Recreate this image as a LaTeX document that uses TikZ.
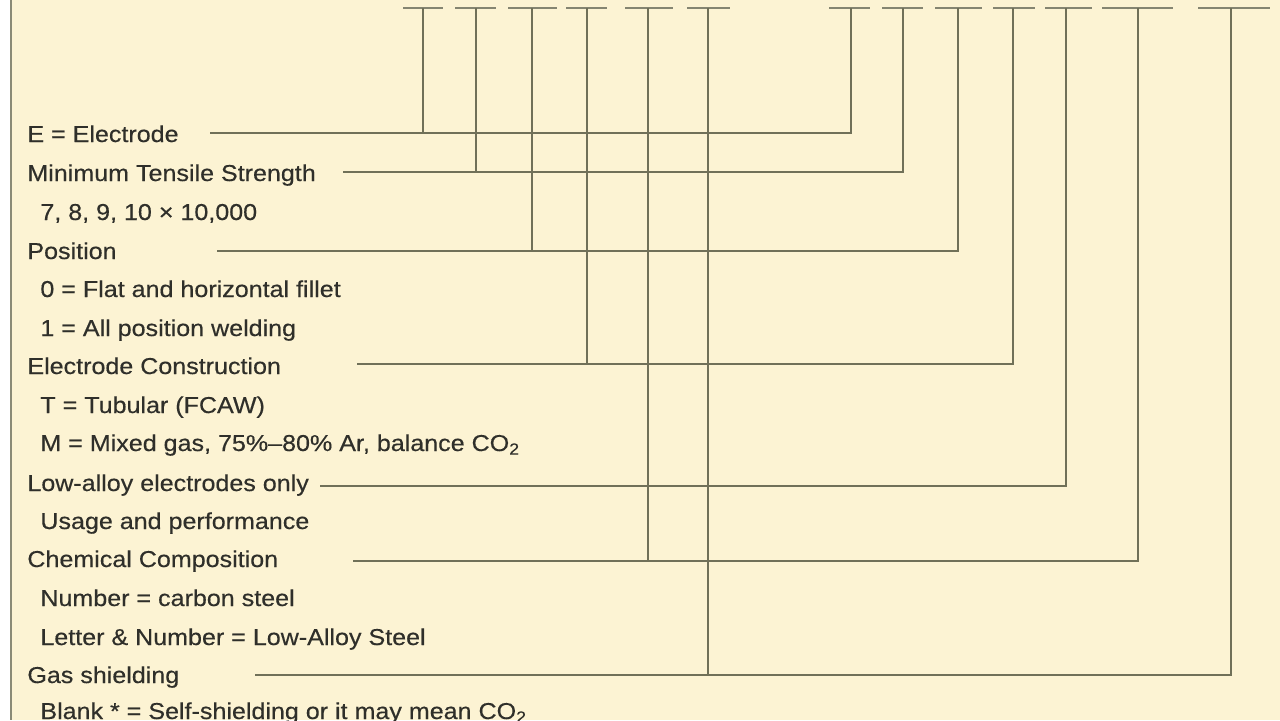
\documentclass[tikz,border=0pt]{standalone}
\usepackage{fontspec}
\setmainfont[FakeStretch=1.09,FakeBold=0.4]{Liberation Sans}
\definecolor{bgc}{HTML}{FCF3D3}
\definecolor{lnc}{HTML}{707058}
\definecolor{txc}{HTML}{2F2F2A}
\definecolor{brd}{HTML}{8A8A76}
\begin{document}
\begin{tikzpicture}[x=0.5pt,y=-0.5pt,
  lab/.style={anchor=base west,inner sep=0pt,text=txc,font=\fontsize{11.5pt}{13pt}\selectfont},
  conn/.style={draw=lnc,line width=1pt},
  blank/.style={draw=lnc!85,line width=1.4pt}]
\useasboundingbox (0,0) rectangle (1280,720);
\fill[white] (0,0) rectangle (1280,720);
\fill[bgc] (10,0) rectangle (1280,720);
\draw[brd,line width=1.4pt] (11,0) -- (11,720);
% blanks (underlines) with their tick points
\foreach \n/\a/\b/\c in {u1/403/443/423,u2/455/496/476,u3/508/557/532,u4/566/607/587,u5/625/673/648,u6/687/730/708,
  v1/829/870/851,v2/882/923/903,v3/935/982/958,v4/993/1035/1013,v5/1045/1092/1066,v6/1102/1173/1138,v7/1198/1270/1231}{
  \draw[blank] (\a,8) -- (\b,8);
  \coordinate (\n) at (\c,8);
}
% labels
\node[lab] (tE) at (27,142) {E = Electrode};
\node[lab] (tMin) at (27,181) {Minimum Tensile Strength};
\node[lab] (tMinA) at (40,220) {7, 8, 9, 10 × 10,000};
\node[lab] (tPos) at (27,259) {Position};
\node[lab] (tPosA) at (40,297) {0 = Flat and horizontal fillet};
\node[lab] (tPosB) at (40,336) {1 = All position welding};
\node[lab] (tCon) at (27,374) {Electrode Construction};
\node[lab] (tConA) at (40,413) {T = Tubular (FCAW)};
\node[lab] (tConB) at (40,451) {M = Mixed gas, 75\%–80\% Ar, balance CO\textsubscript{2}};
\node[lab] (tLow) at (27,491) {Low-alloy electrodes only};
\node[lab] (tLowA) at (40,529) {Usage and performance};
\node[lab] (tChem) at (27,567) {Chemical Composition};
\node[lab] (tChemA) at (40,606) {Number = carbon steel};
\node[lab] (tChemB) at (40,645) {Letter \& Number = Low-Alloy Steel};
\node[lab] (tGas) at (27,683) {Gas shielding};
\node[lab] (tGasA) at (40,719) {Blank * = Self-shielding or it may mean CO\textsubscript{2}};
% free ends of the leader lines
\coordinate (hE) at (210,133);
\coordinate (hMin) at (343,172);
\coordinate (hPos) at (217,251);
\coordinate (hCon) at (357,364);
\coordinate (hLow) at (320,486);
\coordinate (hChem) at (353,561);
\coordinate (hGas) at (255,675);
% connectors
\draw[conn] (hE) -- (v1 |- hE) -- (v1);
\draw[conn] (u1) -- (u1 |- hE);
\draw[conn] (hMin) -- (v2 |- hMin) -- (v2);
\draw[conn] (u2) -- (u2 |- hMin);
\draw[conn] (hPos) -- (v3 |- hPos) -- (v3);
\draw[conn] (u3) -- (u3 |- hPos);
\draw[conn] (hCon) -- (v4 |- hCon) -- (v4);
\draw[conn] (u4) -- (u4 |- hCon);
\draw[conn] (hLow) -- (v5 |- hLow) -- (v5);
\draw[conn] (hChem) -- (v6 |- hChem) -- (v6);
\draw[conn] (u5) -- (u5 |- hChem);
\draw[conn] (hGas) -- (v7 |- hGas) -- (v7);
\draw[conn] (u6) -- (u6 |- hGas);
\end{tikzpicture}
\end{document}
